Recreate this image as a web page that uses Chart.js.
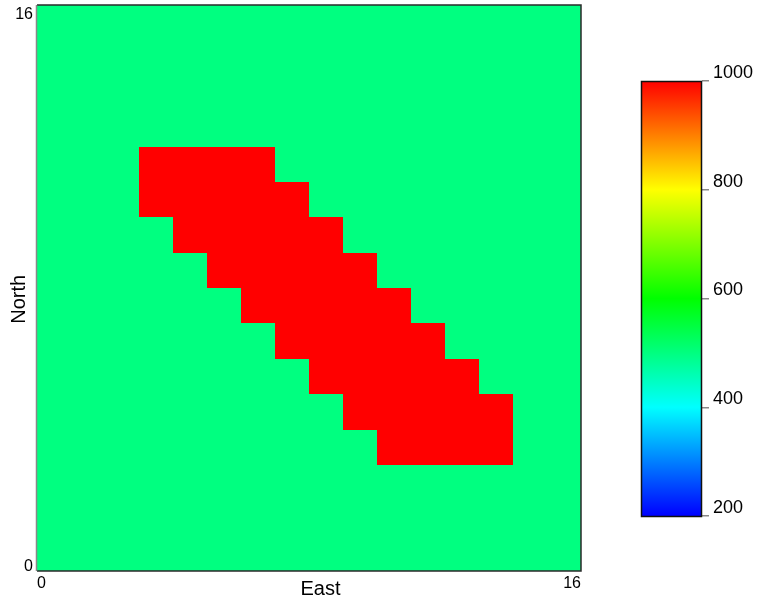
<!DOCTYPE html>
<html>
<head>
<meta charset="utf-8">
<script src="https://cdn.jsdelivr.net/npm/chart.js@4/dist/chart.umd.min.js"></script>
<style>
html,body{margin:0;padding:0;background:#fff;}
#wrap{position:relative;width:758px;height:605px;}
canvas{position:absolute;left:0;top:0;}
</style>
</head>
<body>
<div id="wrap">
<canvas id="main" width="758" height="605"></canvas>
<canvas id="cbar" width="758" height="605"></canvas>
</div>
<script>
// ---- data ----
const eastRange = [0, 16];
const northRange = [0, 16];
const xTickLabels = ['0', '16'];
const yTickLabels = ['0', '16'];
const colorbarTicks = [200, 400, 600, 800, 1000];
const valueMin = 200;
const valueMax = 1000;
// grid values, rows listed from North 15 (top) down to North 0 (bottom), columns East 0..15
const gridRows = [
  [500,500,500,500,500,500,500,500,500,500,500,500,500,500,500,500],
  [500,500,500,500,500,500,500,500,500,500,500,500,500,500,500,500],
  [500,500,500,500,500,500,500,500,500,500,500,500,500,500,500,500],
  [500,500,500,500,500,500,500,500,500,500,500,500,500,500,500,500],
  [500,500,500,1000,1000,1000,1000,500,500,500,500,500,500,500,500,500],
  [500,500,500,1000,1000,1000,1000,1000,500,500,500,500,500,500,500,500],
  [500,500,500,500,1000,1000,1000,1000,1000,500,500,500,500,500,500,500],
  [500,500,500,500,500,1000,1000,1000,1000,1000,500,500,500,500,500,500],
  [500,500,500,500,500,500,1000,1000,1000,1000,1000,500,500,500,500,500],
  [500,500,500,500,500,500,500,1000,1000,1000,1000,1000,500,500,500,500],
  [500,500,500,500,500,500,500,500,1000,1000,1000,1000,1000,500,500,500],
  [500,500,500,500,500,500,500,500,500,1000,1000,1000,1000,1000,500,500],
  [500,500,500,500,500,500,500,500,500,500,1000,1000,1000,1000,500,500],
  [500,500,500,500,500,500,500,500,500,500,500,500,500,500,500,500],
  [500,500,500,500,500,500,500,500,500,500,500,500,500,500,500,500],
  [500,500,500,500,500,500,500,500,500,500,500,500,500,500,500,500]
];

// ---- colour map (rainbow: blue, cyan, green, yellow, red) ----
const stops = [[0,0,255],[0,255,255],[0,255,0],[255,255,0],[255,0,0]];
function colorFor(v){
  let t = (v - valueMin) / (valueMax - valueMin);
  t = Math.max(0, Math.min(1, t));
  const s = t * (stops.length - 1);
  const i = Math.min(stops.length - 2, Math.floor(s));
  const f = s - i;
  const a = stops[i], b = stops[i+1];
  const c = a.map((x, k) => Math.round(x + (b[k] - x) * f));
  return 'rgb(' + c.join(',') + ')';
}

// build cell points
const cells = [];
gridRows.forEach((row, r) => {
  const north = gridRows.length - 1 - r;
  row.forEach((v, c) => cells.push({x: c + 0.5, y: north + 0.5, v: v}));
});

const FONT = '"Liberation Sans", Arial, sans-serif';

const cellPlugin = {
  id: 'cells',
  beforeDatasetsDraw(chart) {
    const ctx = chart.ctx, xs = chart.scales.x, ys = chart.scales.y;
    ctx.save();
    chart.data.datasets[0].data.forEach(p => {
      const x0 = Math.round(xs.getPixelForValue(p.x - 0.5));
      const x1 = Math.round(xs.getPixelForValue(p.x + 0.5));
      const y0 = Math.round(ys.getPixelForValue(p.y + 0.5));
      const y1 = Math.round(ys.getPixelForValue(p.y - 0.5));
      ctx.fillStyle = colorFor(p.v);
      ctx.fillRect(x0, y0, x1 - x0, y1 - y0);
    });
    ctx.restore();
  },
  afterDraw(chart) {
    const ctx = chart.ctx, xs = chart.scales.x, ys = chart.scales.y;
    const L = xs.getPixelForValue(eastRange[0]), R = xs.getPixelForValue(eastRange[1]);
    const T = ys.getPixelForValue(northRange[1]), B = ys.getPixelForValue(northRange[0]);
    ctx.save();
    // frame
    ctx.lineWidth = 1.5;
    ctx.strokeStyle = '#2a2a2a';
    ctx.beginPath();
    ctx.moveTo(L, T); ctx.lineTo(R, T); ctx.lineTo(R, B); ctx.lineTo(L, B);
    ctx.stroke();
    ctx.strokeStyle = '#888';
    ctx.beginPath(); ctx.moveTo(L - 0.5, T); ctx.lineTo(L - 0.5, B); ctx.stroke();
    // tick labels
    ctx.fillStyle = '#000';
    ctx.font = '16px ' + FONT;
    ctx.textAlign = 'right';
    ctx.textBaseline = 'alphabetic';
    ctx.fillText(yTickLabels[1], L - 4, T + 14);
    ctx.fillText(yTickLabels[0], L - 4, B);
    ctx.textAlign = 'left';
    ctx.fillText(xTickLabels[0], L, B + 17);
    ctx.textAlign = 'right';
    ctx.fillText(xTickLabels[1], R, B + 17);
    // axis titles
    ctx.font = '20px ' + FONT;
    ctx.textAlign = 'center';
    ctx.textBaseline = 'middle';
    ctx.fillText('East', L + (R - L) * 0.521, B + 18);
    ctx.translate(L - 18, T + (B - T) * 0.52);
    ctx.rotate(-Math.PI / 2);
    ctx.fillText('North', 0, 0);
    ctx.restore();
  }
};

new Chart(document.getElementById('main'), {
  type: 'scatter',
  data: { datasets: [{ data: cells, pointRadius: 0, pointHoverRadius: 0 }] },
  options: {
    responsive: false,
    devicePixelRatio: 1,
    animation: false,
    events: [],
    layout: { padding: { left: 37, top: 5, right: 177, bottom: 34 } },
    plugins: { legend: { display: false }, tooltip: { enabled: false } },
    scales: {
      x: { type: 'linear', min: eastRange[0], max: eastRange[1], display: false },
      y: { type: 'linear', min: northRange[0], max: northRange[1], display: false }
    }
  },
  plugins: [cellPlugin]
});

// ---- colour bar ----
const cbFrame = {
  id: 'cbFrame',
  afterDatasetsDraw(chart) {
    const a = chart.chartArea, ctx = chart.ctx;
    ctx.save();
    ctx.strokeStyle = '#111';
    ctx.lineWidth = 1.5;
    ctx.strokeRect(a.left + 0.5, a.top + 0.5, a.right - a.left - 1, a.bottom - a.top);
    ctx.restore();
  }
};

new Chart(document.getElementById('cbar'), {
  type: 'bar',
  data: {
    labels: ['cb'],
    datasets: [{
      data: [[valueMin, valueMax]],
      barPercentage: 1,
      categoryPercentage: 1,
      borderWidth: 0,
      backgroundColor(ctx) {
        const a = ctx.chart.chartArea;
        if (!a) return '#fff';
        const g = ctx.chart.ctx.createLinearGradient(0, a.bottom, 0, a.top);
        stops.forEach((s, i) => g.addColorStop(i / (stops.length - 1), 'rgb(' + s.join(',') + ')'));
        return g;
      }
    }]
  },
  options: {
    responsive: false,
    devicePixelRatio: 1,
    animation: false,
    events: [],
    layout: { padding: { left: 641, top: 81, bottom: 89, right: 0 } },
    plugins: { legend: { display: false }, tooltip: { enabled: false } },
    scales: {
      x: { display: false },
      y: {
        position: 'right',
        min: valueMin, max: valueMax,
        afterFit(s) { s.width = 56; },
        afterBuildTicks(s) { s.ticks = colorbarTicks.map(v => ({ value: v })); },
        border: { display: false },
        grid: { drawOnChartArea: false, drawTicks: true, tickLength: 7, color: '#888', lineWidth: 1.5 },
        ticks: { color: '#000', font: { size: 18, family: FONT }, padding: 4, labelOffset: -8,
                 callback: v => String(v) }
      }
    }
  },
  plugins: [cbFrame]
});
</script>
</body>
</html>
